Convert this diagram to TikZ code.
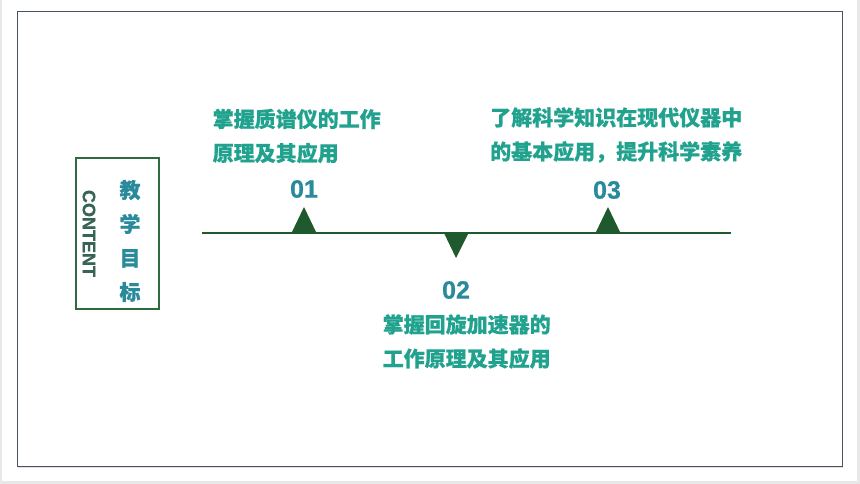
\documentclass[tikz,border=0pt]{standalone}
\usepackage{fontspec}
\setmainfont{Liberation Sans}[BoldFeatures={FakeBold=0.8}]
\newfontfamily\cjk{Noto Sans CJK SC}[BoldFeatures={FakeBold=0.6}]
\definecolor{pagegray}{RGB}{232,232,232}
\definecolor{framecol}{RGB}{74,84,96}
\definecolor{boxgreen}{RGB}{45,107,63}
\definecolor{linegreen}{RGB}{30,90,45}
\definecolor{txtteal}{RGB}{32,162,142}
\definecolor{numteal}{RGB}{40,138,154}
\definecolor{contentcol}{RGB}{55,100,84}
\tikzset{
  desc/.style={font=\cjk\bfseries\fontsize{21}{34}\selectfont, text=txtteal, align=left, inner sep=0pt, anchor=west},
  num/.style={font=\bfseries\fontsize{25}{25}\selectfont, text=numteal, inner sep=0pt},
  tri/.style={fill=linegreen, draw=none},
}
\begin{document}
\begin{tikzpicture}[x=1pt,y=-1pt]
\useasboundingbox (0,0) rectangle (860,484);
\fill[pagegray] (0,0) rectangle (860,484);
\fill[white] (2,0) rectangle (857,481);
\draw[black!12, line width=1pt] (18,467.5) -- (843,467.5);
\draw[framecol, line width=1pt] (17,12) rectangle (842.5,466);
% left box
\node[draw=boxgreen, line width=1.5pt, minimum width=83pt, minimum height=151pt, inner sep=0pt] (box) at (117.5,233.5) {};
\node[rotate=-90, font=\bfseries\fontsize{18}{18}\selectfont, text=contentcol, inner sep=0pt] (content) at (89,233.5) {CONTENT};
\node[font=\cjk\bfseries\fontsize{21}{34}\selectfont, text=numteal, align=center, inner sep=0pt] (goal) at (130,241) {教\\学\\目\\标};
% timeline
\coordinate (L) at (202,233);
\coordinate (R) at (731,233);
\draw[linegreen, line width=2pt] (L) -- (R);
\fill[tri] (291.5,233) -- (304,207) -- (316.5,233) -- cycle;
\fill[tri] (444,233) -- (456,258) -- (468.5,233) -- cycle;
\fill[tri] (595.5,233) -- (608,207) -- (620.5,233) -- cycle;
% numbers
\node[num] (n1) at (304,189) {01};
\node[num] (n2) at (456,290) {02};
\node[num] (n3) at (607,190) {03};
% descriptions
\node[desc] (t1) at (212.5,136) {掌握质谱仪的工作\\原理及其应用};
\node[desc] (t2) at (382.5,341.5) {掌握回旋加速器的\\工作原理及其应用};
\node[desc] (t3) at (490,135) {了解科学知识在现代仪器中\\的基本应用，提升科学素养};
\end{tikzpicture}
\end{document}
